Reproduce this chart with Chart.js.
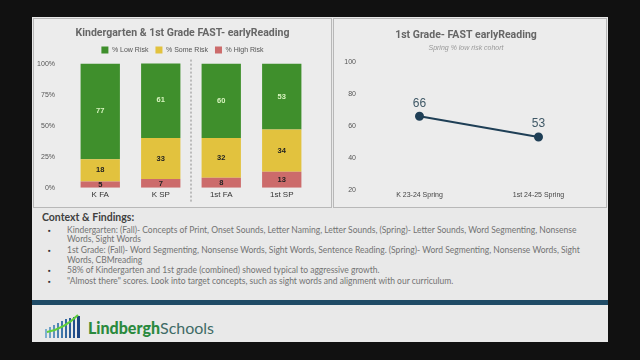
<!DOCTYPE html>
<html>
<head>
<meta charset="utf-8">
<script src="https://cdn.jsdelivr.net/npm/chart.js@4"></script>
<style>
    body { margin: 0; background: #111; width: 640px; height: 360px; overflow: hidden; font-family: 'Liberation Sans', Arial, sans-serif; }
    .slide { position: absolute; left: 32px; top: 17px; width: 576px; height: 325px; background: #e9e9e9; }
    .panel { position: absolute; top: 1px; height: 190px; border: 1px solid #b8b8b8; box-sizing: border-box; background: #ececec; }
    #leftPanel { left: 1px; width: 299px; }
    #rightPanel { left: 301px; width: 274px; }
    .panel canvas { position: absolute; left: 0; top: 0; }
    .notes { position: absolute; left: 0; top: 192px; width: 576px; height: 90px; font-family: Lato, 'Open Sans', sans-serif; color: #737373; font-size: 8.5px; }
    .notes h4 { margin: 0; position: absolute; left: 10px; top: 2px; font-size: 10.5px; color: #404040; font-weight: 700; }
    .notes ul { position: absolute; left: 0; top: 17px; margin: 0; padding: 0 0 0 35px; width: 518px; list-style: none; }
    .notes li { position: relative; line-height: 9.4px; margin-bottom: 1.3px; }
    .notes li:before { content: '\25AA'; position: absolute; left: -19px; color: #333; font-size: 7px; }
    .bar { position: absolute; left: 0; top: 283px; width: 576px; height: 5px; background: #1f4b66; }
    .logo { position: absolute; left: 56px; top: 301px; font-family: Lato, sans-serif; font-size: 16px; }
    .logo b { color: #2b8a3e; font-weight: 900; }
    .logo span { color: #3f6b66; }
</style>
</head>
<body>
<div class="slide">
    <div class="panel" id="leftPanel"><canvas id="riskChart" width="297" height="188"></canvas></div>
    <div class="panel" id="rightPanel"><canvas id="cohortChart" width="272" height="188"></canvas></div>
    <div class="notes">
        <h4>Context &amp; Findings:</h4>
        <ul>
            <li>Kindergarten: (Fall)- Concepts of Print, Onset Sounds, Letter Naming, Letter Sounds, (Spring)- Letter Sounds, Word Segmenting, Nonsense Words, Sight Words</li>
            <li>1st Grade: (Fall)- Word Segmenting, Nonsense Words, Sight Words, Sentence Reading. (Spring)- Word Segmenting, Nonsense Words, Sight Words, CBMreading</li>
            <li>58% of Kindergarten and 1st grade (combined) showed typical to aggressive growth.</li>
            <li>"Almost there" scores. Look into target concepts, such as sight words and alignment with our curriculum.</li>
        </ul>
    </div>
    <div class="bar"></div>
    <svg style="position:absolute;left:12px;top:296px" width="38" height="26">
        <rect x="1" y="16" width="2" height="9" fill="#7fb0cf"/>
        <rect x="5" y="14" width="2" height="11" fill="#6fa2c6"/>
        <rect x="9" y="12" width="2" height="13" fill="#5f93bd"/>
        <rect x="13" y="10" width="2" height="15" fill="#4f85b3"/>
        <rect x="17" y="8" width="2" height="17" fill="#4077aa"/>
        <rect x="21" y="6" width="2" height="19" fill="#3569a0"/>
        <rect x="25" y="5" width="2" height="20" fill="#2b5c96"/>
        <rect x="29" y="4" width="2" height="21" fill="#224f8c"/>
        <rect x="33" y="3" width="3" height="22" fill="#1c4482"/>
        <path d="M3 19 Q20 16 34 2" stroke="#5fcf3a" stroke-width="2" fill="none"/>
    </svg>
    <div class="logo"><b>Lindbergh</b><span>Schools</span></div>
</div>

<script>
var categories = ['K FA', 'K SP', '1st FA', '1st SP'];
var lowRisk = [77, 61, 60, 53];
var someRisk = [18, 33, 32, 34];
var highRisk = [5, 7, 8, 13];
var yTicksPct = [0, 25, 50, 75, 100];

var cohortLabels = ['K 23-24 Spring', '1st 24-25 Spring'];
var cohortLowRisk = [66, 53];

// draws the value inside each bar / above each point
var valueLabels = {
    id: 'valueLabels',
    afterDatasetsDraw: function (chart, args, opts) {
        var ctx = chart.ctx;
        ctx.save();
        chart.data.datasets.forEach(function (ds, i) {
            var meta = chart.getDatasetMeta(i);
            meta.data.forEach(function (el, j) {
                var v = ds.data[j];
                ctx.fillStyle = ds.labelColor;
                ctx.font = opts.font;
                ctx.textAlign = 'center';
                ctx.textBaseline = 'middle';
                if (chart.config.type === 'bar') {
                    ctx.fillText(v, el.x, (el.y + el.base) / 2);
                } else {
                    ctx.fillText(v, el.x, el.y - 13);
                }
            });
        });
        ctx.restore();
    }
};

// dashed line between kindergarten and 1st grade groups
var groupDivider = {
    id: 'groupDivider',
    afterDraw: function (chart) {
        var x = chart.scales.x;
        var px = (x.getPixelForValue(1) + x.getPixelForValue(2)) / 2;
        var ctx = chart.ctx;
        ctx.save();
        ctx.strokeStyle = '#8a8a8a';
        ctx.setLineDash([2, 2]);
        ctx.beginPath();
        ctx.moveTo(px, chart.chartArea.top - 4);
        ctx.lineTo(px, chart.chartArea.bottom + 14);
        ctx.stroke();
        ctx.restore();
    }
};

var riskCtx = document.getElementById('riskChart').getContext('2d');
var riskChart = new Chart(riskCtx, {
    type: 'bar',
    data: {
        labels: categories,
        datasets: [
            { label: '% High Risk', data: highRisk, backgroundColor: '#cc6b6b', labelColor: '#222' },
            { label: '% Some Risk', data: someRisk, backgroundColor: '#e2c23e', labelColor: '#222' },
            { label: '% Low Risk', data: lowRisk, backgroundColor: '#3f8f2c', labelColor: '#d9f5c0' }
        ]
    },
    options: {
        responsive: false,
        animation: false,
        layout: { padding: { left: 0, right: 0, top: 2, bottom: 5 } },
        datasets: { bar: { barPercentage: 0.65, categoryPercentage: 1 } },
        scales: {
            x: {
                stacked: true,
                grid: { display: false, drawTicks: false },
                border: { display: false },
                ticks: { color: '#333', font: { size: 8 }, padding: 2 }
            },
            y: {
                stacked: true,
                min: 0,
                max: 100,
                afterBuildTicks: function (axis) {
                    axis.ticks = yTicksPct.map(function (v) { return { value: v }; });
                },
                afterFit: function (axis) { axis.width = 36; },
                grid: { display: false, drawTicks: false },
                border: { display: false },
                ticks: { color: '#555', font: { size: 7 }, padding: 15, callback: function (v) { return v + '%'; } }
            },
            yRight: {
                position: 'right',
                afterFit: function (axis) { axis.width = 19; },
                grid: { display: false, drawTicks: false },
                border: { display: false },
                ticks: { display: false }
            }
        },
        plugins: {
            title: { display: true, text: 'Kindergarten & 1st Grade FAST- earlyReading', color: '#666', font: { family: 'Roboto', size: 10.5, weight: 'bold' }, padding: { top: 6, bottom: 0 } },
            legend: {
                display: true,
                position: 'top',
                reverse: true,
                labels: { boxWidth: 7, boxHeight: 7, color: '#555', font: { size: 7 }, padding: 7 }
            },
            tooltip: { enabled: false },
            valueLabels: { font: 'bold 7.5px "Liberation Sans", Arial, sans-serif' }
        }
    },
    plugins: [valueLabels, groupDivider]
});

var cohortCtx = document.getElementById('cohortChart').getContext('2d');
var cohortChart = new Chart(cohortCtx, {
    type: 'line',
    data: {
        labels: cohortLabels,
        datasets: [{
            label: 'Spring % low risk cohort',
            data: cohortLowRisk,
            borderColor: '#1f3f56',
            backgroundColor: '#1f3f56',
            labelColor: '#3f5866',
            borderWidth: 2,
            pointRadius: 3.5,
            pointBackgroundColor: '#1f3f56'
        }]
    },
    options: {
        responsive: false,
        animation: false,
        layout: { padding: { left: 0, right: 8, top: 4, bottom: 7 } },
        scales: {
            x: {
                offset: true,
                grid: { display: false, drawTicks: false },
                border: { display: false },
                ticks: { color: '#444', font: { size: 7 }, padding: 1 }
            },
            y: {
                min: 20,
                max: 100,
                afterFit: function (axis) { axis.width = 26; },
                grid: { display: false, drawTicks: false },
                border: { display: false },
                ticks: { stepSize: 20, color: '#555', font: { size: 7 }, padding: 4 }
            }
        },
        plugins: {
            title: { display: true, text: '1st Grade- FAST earlyReading', color: '#666', font: { family: 'Roboto', size: 10.5, weight: 'bold' }, padding: { top: 6, bottom: 2 } },
            subtitle: { display: true, text: 'Spring % low risk cohort', color: '#999', font: { size: 7, style: 'italic' }, padding: { bottom: 10 } },
            legend: { display: false },
            tooltip: { enabled: false },
            valueLabels: { font: '12px "Liberation Sans", Arial, sans-serif' }
        }
    },
    plugins: [valueLabels]
});
</script>
</body>
</html>
